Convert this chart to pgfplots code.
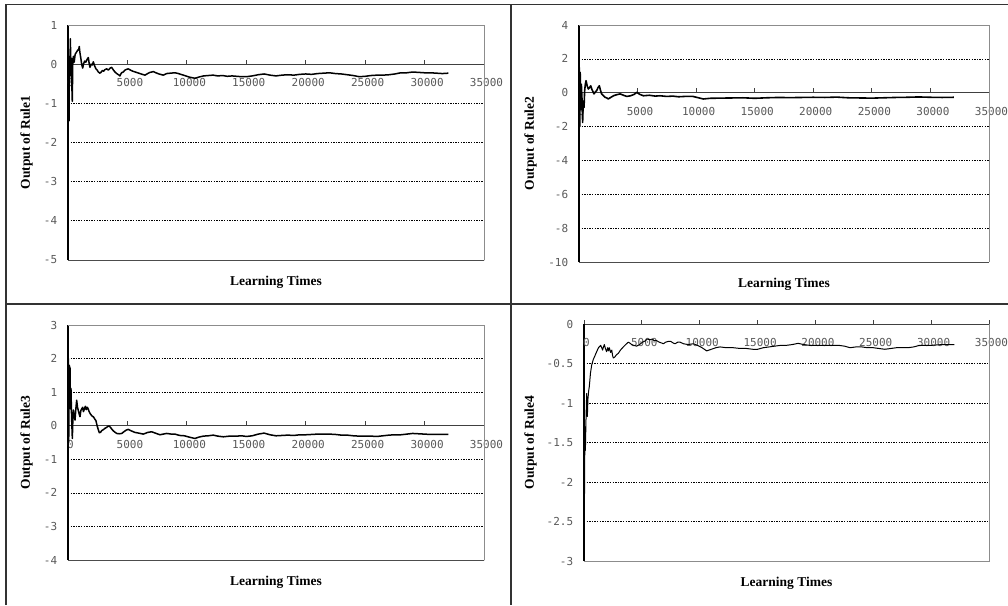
\documentclass[border=0pt]{standalone}
\usepackage{fontspec}
\setmainfont{Liberation Serif}
\newfontfamily\monofont{DejaVu Sans Mono}
\usepackage{pgfplots}
\pgfplotsset{compat=1.18}

\pgfplotsset{
  rulepanel/.style={
    scale only axis,
    anchor=south west,
    axis x line=middle,
    axis y line=left,
    axis line style={-},
    x axis line style={black!75, line width=0.9pt},
    y axis line style={black, line width=1.4pt},
    xmin=0, xmax=35000,
    xtick={0,5000,...,35000},
    hide obscured x ticks=false,
    scaled x ticks=false,
    /pgf/number format/set thousands separator={},
    /pgf/number format/assume math mode=true,
    ticklabel style={font=\monofont\fontsize{11}{12}\selectfont, text=black!65},
    xticklabel style={anchor=north, yshift=-11pt, xshift=2.5pt},
    yticklabel style={anchor=east, xshift=-5pt},
    ytick style={draw=none},
    xtick style={black!75, line width=0.8pt},
    xtick align=inside,
    major tick length=4.5pt,
    ymajorgrids,
    grid style={black, line width=0.7pt, dash pattern=on 1.3pt off 1.3pt},
    xlabel={Learning Times},
    every axis x label/.style={at={(axis description cs:0.5,0)}, anchor=north, inner sep=0pt, yshift=-16pt, font=\bfseries\fontsize{13.5}{15}\selectfont},
    clip=false,
    after end axis/.code={
      \draw[black!45, line width=0.8pt] (rel axis cs:0,1) -- (rel axis cs:1,1) -- (rel axis cs:1,0);
      \draw[black!70, line width=0.9pt] (rel axis cs:0,0) -- (rel axis cs:1,0);
    },
  },
  ylab/.style={
    every axis y label/.style={at={(axis description cs:0,0.5)}, xshift=#1, rotate=90, anchor=south, inner sep=0pt, font=\bfseries\fontsize{13.5}{15}\selectfont},
  },
}

\pgfplotstableread{
x y
0 0.3
0 -4.2
10 0.4
30 -1.0
60 0.2
85 -1.45
120 0.1
160 -0.3
200 0.65
240 -0.2
280 0.15
320 -0.5
360 -0.95
400 0.0
450 0.2
520 0.05
600 0.25
700 0.3
800 0.35
900 0.38
950 0.45
1000 0.3
1080 0.15
1150 0.0
1235 -0.1
1300 0.0
1400 0.08
1500 0.05
1600 0.12
1710 0.17
1780 0.02
1850 -0.08
1950 0.0
2050 -0.02
2130 0.06
2250 -0.05
2350 -0.12
2450 -0.15
2550 -0.2
2690 -0.23
2800 -0.2
2900 -0.16
3000 -0.18
3100 -0.14
3250 -0.12
3400 -0.15
3550 -0.1
3670 -0.08
3800 -0.14
3950 -0.2
4100 -0.24
4250 -0.27
4370 -0.3
4500 -0.22
4650 -0.2
4800 -0.15
4950 -0.13
5075 -0.12
5250 -0.15
5450 -0.18
5650 -0.2
5850 -0.22
6050 -0.24
6250 -0.26
6480 -0.28
6700 -0.24
6900 -0.21
7175 -0.19
7400 -0.22
7650 -0.25
8015 -0.28
8300 -0.24
8600 -0.23
9000 -0.22
9300 -0.24
9600 -0.27
9900 -0.3
10200 -0.33
10680 -0.36
11000 -0.33
11400 -0.3
11800 -0.29
12200 -0.28
12600 -0.3
13000 -0.29
13400 -0.31
13800 -0.3
14200 -0.31
14600 -0.32
15000 -0.32
15500 -0.3
16000 -0.27
16500 -0.25
17000 -0.28
17500 -0.3
18000 -0.28
18500 -0.27
19000 -0.28
19500 -0.26
20000 -0.25
20500 -0.26
21000 -0.24
21500 -0.23
22000 -0.22
22500 -0.24
23000 -0.25
23500 -0.27
24000 -0.29
24500 -0.32
25000 -0.31
25500 -0.29
26000 -0.28
26500 -0.28
27000 -0.27
27500 -0.25
28000 -0.22
28500 -0.22
29000 -0.2
29500 -0.21
30000 -0.22
30500 -0.22
31000 -0.23
31500 -0.24
32000 -0.23
}\ruleone

\pgfplotstableread{
x y
0 2.2
0 -8.7
20 1.5
60 -2.0
100 1.2
150 -1.0
200 0.5
250 -0.28
310 -1.76
360 -0.5
430 -0.87
480 0.1
540 0.5
600 0.71
700 0.4
800 0.22
900 0.3
1000 0.41
1100 0.2
1200 0.05
1280 -0.07
1400 0.05
1510 0.12
1620 0.3
1735 0.41
1830 0.15
1930 -0.07
2050 -0.15
2220 -0.27
2350 -0.3
2500 -0.37
2700 -0.28
2940 -0.18
3200 -0.12
3510 -0.07
3800 -0.15
4080 -0.22
4400 -0.18
4700 -0.1
4930 0.02
5200 -0.1
5500 -0.18
6000 -0.15
6500 -0.2
6920 -0.18
7500 -0.22
8000 -0.2
8500 -0.24
9000 -0.22
9730 -0.22
10200 -0.3
10610 -0.37
11200 -0.33
12000 -0.32
13000 -0.31
14000 -0.3
15000 -0.33
16000 -0.3
17000 -0.28
18000 -0.29
19000 -0.28
20000 -0.27
21000 -0.28
22000 -0.26
23000 -0.3
24000 -0.31
25000 -0.32
26000 -0.3
27000 -0.28
28000 -0.27
29000 -0.25
30000 -0.27
31000 -0.28
32000 -0.27
}\ruletwo

\pgfplotstableread{
x y
0 2.55
0 -2.8
30 2.0
60 -0.5
100 1.8
170 1.71
210 0.5
250 1.11
300 0.27
365 -0.38
410 0.2
450 0.47
520 0.3
590 0.17
660 0.5
730 0.76
800 0.55
870 0.45
940 0.35
1010 0.27
1080 0.45
1150 0.5
1235 0.55
1300 0.42
1380 0.5
1460 0.58
1540 0.48
1625 0.55
1700 0.5
1780 0.42
1850 0.37
1950 0.32
2050 0.28
2130 0.27
2250 0.2
2350 0.15
2450 0.0
2550 -0.12
2635 -0.21
2750 -0.19
2850 -0.14
2970 -0.12
3100 -0.08
3250 -0.05
3350 -0.02
3475 -0.01
3600 -0.06
3750 -0.13
3900 -0.18
4100 -0.23
4300 -0.24
4520 -0.23
4700 -0.18
4900 -0.13
5075 -0.11
5300 -0.15
5640 -0.2
5950 -0.22
6335 -0.25
6700 -0.2
7030 -0.18
7350 -0.22
7735 -0.27
8000 -0.25
8300 -0.23
8700 -0.25
9000 -0.25
9400 -0.29
9800 -0.3
10200 -0.34
10680 -0.38
11000 -0.34
11380 -0.31
11800 -0.3
12220 -0.28
12600 -0.31
13060 -0.33
13600 -0.31
14180 -0.31
14600 -0.3
15020 -0.32
15500 -0.3
16000 -0.25
16500 -0.22
17000 -0.27
17500 -0.3
18000 -0.29
18500 -0.28
19000 -0.29
19500 -0.27
20000 -0.27
20500 -0.26
21000 -0.25
21500 -0.25
22000 -0.25
22500 -0.26
23000 -0.28
23500 -0.28
24000 -0.3
24500 -0.31
25000 -0.31
25500 -0.31
26000 -0.32
26500 -0.3
27000 -0.28
27500 -0.27
28000 -0.27
28500 -0.25
29000 -0.23
29500 -0.24
30000 -0.25
30500 -0.26
31000 -0.26
31500 -0.26
32000 -0.26
}\rulethree

\pgfplotstableread{
x y
0 -2.75
0 -1.68
40 -2.2
80 -1.3
120 -1.6
170 -1.22
230 -0.88
260 -1.05
290 -1.17
340 -0.95
400 -0.85
460 -0.79
560 -0.62
665 -0.52
800 -0.45
950 -0.4
1095 -0.35
1250 -0.3
1440 -0.27
1530 -0.3
1610 -0.33
1680 -0.29
1755 -0.26
1850 -0.31
1950 -0.35
2050 -0.3
2120 -0.34
2190 -0.3
2300 -0.36
2400 -0.33
2470 -0.4
2535 -0.43
2650 -0.42
2800 -0.39
2970 -0.37
3150 -0.33
3400 -0.29
3600 -0.26
3830 -0.23
3950 -0.24
4120 -0.26
4300 -0.27
4550 -0.28
4800 -0.26
5050 -0.23
5270 -0.215
5470 -0.19
5700 -0.2
5900 -0.19
6050 -0.21
6270 -0.21
6500 -0.23
6700 -0.24
6860 -0.25
7050 -0.23
7290 -0.22
7500 -0.22
7700 -0.24
7870 -0.25
8100 -0.23
8300 -0.23
8600 -0.25
9000 -0.26
9450 -0.25
9800 -0.27
10200 -0.3
10600 -0.34
11000 -0.32
11400 -0.3
11750 -0.29
12300 -0.3
12900 -0.3
13500 -0.31
14050 -0.31
14600 -0.32
15000 -0.32
15500 -0.3
16000 -0.29
16500 -0.28
17000 -0.27
17500 -0.27
18000 -0.26
18500 -0.245
19000 -0.26
19500 -0.27
20000 -0.27
20500 -0.27
21000 -0.27
21500 -0.27
22000 -0.27
22500 -0.28
23000 -0.3
23500 -0.29
24000 -0.29
24500 -0.3
25000 -0.3
25500 -0.31
26000 -0.32
26500 -0.31
27000 -0.3
27500 -0.3
28000 -0.3
28500 -0.29
29000 -0.27
29500 -0.27
30000 -0.27
31000 -0.26
32000 -0.26
}\rulefour

\begin{document}
\begin{tikzpicture}[x=1pt,y=1pt]
\path[use as bounding box] (0,0) rectangle (1008,-605);
% frame lines of the figure table
\draw[black!80, line width=1.5pt] (6,-605) -- (6,-4.5) -- (1008,-4.5);
\draw[black!80, line width=1.5pt] (511,-4.5) -- (511,-605);
\draw[black!80, line width=1.5pt] (6,-304) -- (1008,-304);

% Panel 1
\begin{axis}[rulepanel, ylab=-35pt, at={(68pt,-260pt)}, width=416pt, height=235pt,
  ymin=-5, ymax=1, ytick={-5,-4,...,1},
  ylabel={Output of Rule1}]
\addplot[black, line width=1.5pt, line join=round] table[x=x,y=y] {\ruleone};
\end{axis}

% Panel 2
\begin{axis}[rulepanel, ylab=-42pt, at={(579pt,-262pt)}, width=410pt, height=237pt,
  ymin=-10, ymax=4, ytick={-10,-8,...,4},
  ylabel={Output of Rule2}]
\addplot[black, line width=1.6pt, line join=round] table[x=x,y=y] {\ruletwo};
\end{axis}

% Panel 3
\begin{axis}[rulepanel, ylab=-35pt, at={(68pt,-560pt)}, width=416pt, height=235pt,
  ymin=-4, ymax=3, ytick={-4,-3,...,3},
  ylabel={Output of Rule3}]
\addplot[black, line width=1.5pt, line join=round] table[x=x,y=y] {\rulethree};
\end{axis}

% Panel 4
\begin{axis}[rulepanel, ylab=-47pt, at={(584pt,-561pt)}, width=405pt, height=237pt,
  ymin=-3, ymax=0, ytick={-3,-2.5,...,0},
  ylabel={Output of Rule4},
  after end axis/.code={
      \draw[black!45, line width=0.8pt] (rel axis cs:1,1) -- (rel axis cs:1,0) -- (rel axis cs:0,0);
  }]
\addplot[black, line width=1.0pt, line join=round] table[x=x,y=y] {\rulefour};
\end{axis}
\end{tikzpicture}
\end{document}
